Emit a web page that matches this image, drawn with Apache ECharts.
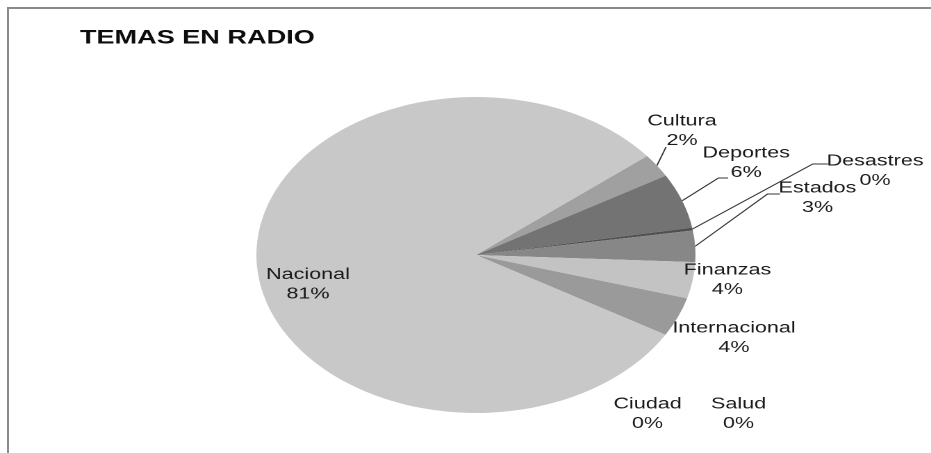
<!DOCTYPE html>
<html><head><meta charset="utf-8">
<script src="https://cdn.jsdelivr.net/npm/echarts@6/dist/echarts.min.js"></script>
<style>
html,body{margin:0;padding:0;width:931px;height:453px;overflow:hidden;background:#fff;}
#frame{position:absolute;left:7px;top:7px;right:0;bottom:0;border-left:2px solid #8a8a8a;border-top:2px solid #8a8a8a;}
#chart{position:absolute;left:0;top:0;width:670px;height:453px;transform:scaleX(1.3896);transform-origin:0 0;}
</style></head><body>
<div id="frame"></div><div id="chart"></div>
<script>
const chartTitle = 'TEMAS EN RADIO';
const categories = ['Ciudad','Cultura','Deportes','Desastres','Estados','Finanzas','Internacional','Nacional','Salud'];
const values = [0, 2.4, 5.6, 0.3, 3.2, 3.7, 4.0, 80.8, 0];

// styling / layout (not data)
const sliceColors = ['#b0b0b0','#a0a0a0','#737373','#505050','#878787','#c3c3c3','#9a9a9a','#c8c8c8','#bbbbbb'];
const pieCenter = [342.5, 255], pieRadius = 158, pieStart = 38.8;
// label block centre, optional leader line end offset [dx, dy, horizontal segment]
const labelPlace = {
  Ciudad:        {x: 466,   y: 414},
  Cultura:       {x: 490.8, y: 131, end: [-11.5, 16, 0]},
  Deportes:      {x: 537,   y: 163, end: [-13, 15, 7]},
  Desastres:     {x: 629.7, y: 171, end: [-33.8, -7, 11]},
  Estados:       {x: 588.3, y: 198, end: [-27, -4, 9]},
  Finanzas:      {x: 523.5, y: 280},
  Internacional: {x: 528.2, y: 338},
  Nacional:      {x: 221.6, y: 284.5},
  Salud:         {x: 531.5, y: 414}
};

const total = values.reduce((a, b) => a + b, 0);
function arcMid(i) {
  let cum = 0;
  for (let k = 0; k < i; k++) cum += values[k];
  const a = (pieStart - (cum + values[i] / 2) / total * 360) * Math.PI / 180;
  return [pieCenter[0] + pieRadius * Math.cos(a), pieCenter[1] - pieRadius * Math.sin(a)];
}

const chart = echarts.init(document.getElementById('chart'), null, {renderer: 'canvas', devicePixelRatio: 2});
chart.setOption({
  animation: false,
  backgroundColor: 'transparent',
  title: {
    text: chartTitle, left: 57.5, top: 28, padding: 0,
    textStyle: {fontFamily: 'Liberation Sans', fontWeight: 'bold', fontSize: 19.5, color: '#0d0d0d'}
  },
  series: [{
    type: 'pie',
    center: pieCenter,
    radius: pieRadius,
    startAngle: pieStart,
    clockwise: true,
    avoidLabelOverlap: false,
    percentPrecision: 0,
    silent: true,
    label: {
      show: true, position: 'outside', formatter: '{b}\n{d}%',
      fontFamily: 'Liberation Sans', fontSize: 15.5, lineHeight: 19.5, color: '#1a1a1a', align: 'center'
    },
    labelLine: {show: true, length: 10, length2: 8, lineStyle: {color: '#333', width: 1}},
    labelLayout: function (params) {
      const name = categories[params.dataIndex];
      const p = labelPlace[name];
      const out = {x: p.x, y: p.y, align: 'center', verticalAlign: 'middle'};
      if (p.end) {
        const s = (params.labelLinePoints && params.labelLinePoints[0]) ? params.labelLinePoints[0] : arcMid(params.dataIndex);
        const ex = p.x + p.end[0], ey = p.y + p.end[1];
        out.labelLinePoints = [[s[0], s[1]], [ex - p.end[2], ey], [ex, ey]];
      }
      return out;
    },
    data: categories.map((c, i) => ({
      name: c, value: values[i],
      itemStyle: {color: sliceColors[i]},
      labelLine: {show: !!labelPlace[c].end}
    }))
  }]
});
</script>
</body></html>
